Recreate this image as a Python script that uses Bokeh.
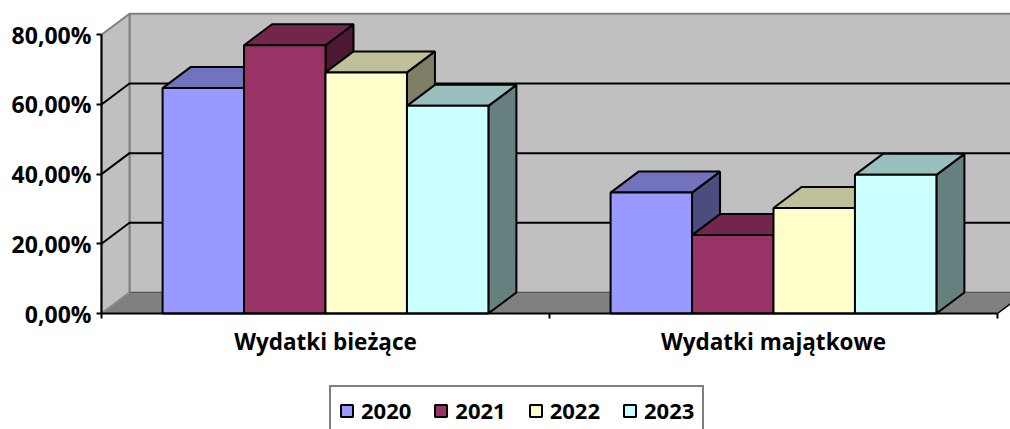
from bokeh.plotting import figure
from bokeh.models import (Range1d, FixedTicker, Legend, LegendItem, ColumnDataSource,
                          LinearAxis)
from bokeh.embed import file_html
from bokeh.resources import INLINE

# ---------------- data ----------------
categories = ["Wydatki bieżące", "Wydatki majątkowe"]
years = ["2020", "2021", "2022", "2023"]
v2020 = [64.7, 34.7]
v2021 = [77.0, 22.5]
v2022 = [69.2, 30.3]
v2023 = [59.6, 39.8]
series = [v2020, v2021, v2022, v2023]
y_ticks = [0, 20, 40, 60, 80]
y_tick_labels = ["0,00%", "20,00%", "40,00%", "60,00%", "80,00%"]
colors = ["#9999FF", "#993366", "#FFFFCC", "#CCFFFF"]

# ---------------- geometry / style ----------------
W, H = 1010, 429
X0_PX, Y0_PX = 101, 313     # pixel position of the (0, 0) corner of the front axes
PX_X = 448.0                # pixels per category
PX_Y = 3.484                # pixels per percent
x_start, x_end = -X0_PX / PX_X, (W - X0_PX) / PX_X
y_start, y_end = -(H - Y0_PX) / PX_Y, Y0_PX / PX_Y
DX = 28 / PX_X              # 3-D depth offset (x)
DY = 21 / PX_Y              # 3-D depth offset (y)
YMAX = y_ticks[-1]
NCAT = len(categories)
GAP = 1.5
BW = 1.0 / (len(series) + GAP)
FONT = "Open Sans"


def shade(hexc, f):
    r, g, b = int(hexc[1:3], 16), int(hexc[3:5], 16), int(hexc[5:7], 16)
    return "#%02x%02x%02x" % (int(r * f), int(g * f), int(b * f))


p = figure(width=W, height=H, x_range=Range1d(x_start, x_end), y_range=Range1d(y_start, y_end),
           output_backend="svg", toolbar_location=None,
           x_axis_location=None, y_axis_location=None,
           min_border_left=0, min_border_right=0, min_border_top=0, min_border_bottom=0,
           outline_line_color=None)
p.xgrid.grid_line_color = None
p.ygrid.grid_line_color = None

# back wall
p.patch([DX, DX, x_end + 1, x_end + 1], [DY, YMAX + DY, YMAX + DY, DY],
        fill_color="#C0C0C0", line_color="#808080", line_width=2)
# side wall
p.patch([0, 0, DX, DX], [0, YMAX, YMAX + DY, DY],
        fill_color="#C0C0C0", line_color="#808080", line_width=2)
# floor
p.patch([0, NCAT, NCAT + DX, x_end + 1, x_end + 1, DX], [0, 0, DY, DY, DY, DY],
        fill_color="#808080", line_color="#5a5a5a", line_width=1)
p.line([0, DX], [0, DY], line_color="#a0a0a0", line_width=1)
p.line([NCAT, NCAT + DX], [0, DY], line_color="black", line_width=1.5)

# gridlines (side wall + back wall)
for t in y_ticks[1:-1]:
    p.line([0, DX, x_end + 1], [t, t + DY, t + DY], line_color="black", line_width=2)

# bars
front_renderers = []
sides_xs, sides_ys, sides_c = [], [], []
tops_xs, tops_ys, tops_c = [], [], []
fronts = []
for s, vals in enumerate(series):
    lefts, rights, tops = [], [], []
    for c, h in enumerate(vals):
        x0 = c + 0.5 - len(series) / 2 * BW + s * BW
        x1 = x0 + BW
        sides_xs.append([x1, x1, x1 + DX, x1 + DX])
        sides_ys.append([0, h, h + DY, DY])
        sides_c.append(shade(colors[s], 0.5))
        tops_xs.append([x0, x0 + DX, x1 + DX, x1])
        tops_ys.append([h, h + DY, h + DY, h])
        tops_c.append(shade(colors[s], 0.75))
        lefts.append(x0)
        rights.append(x1)
        tops.append(h)
    fronts.append(dict(left=lefts, right=rights, top=tops, bottom=[0] * len(vals)))

p.patches(xs=sides_xs, ys=sides_ys, fill_color=sides_c, line_color="black", line_width=2)
p.patches(xs=tops_xs, ys=tops_ys, fill_color=tops_c, line_color="black", line_width=2)
for s, d in enumerate(fronts):
    r = p.quad(source=ColumnDataSource(d), left="left", right="right", top="top", bottom="bottom",
               fill_color=colors[s], line_color="black", line_width=2)
    front_renderers.append(r)

# y axis (front vertical axis at x = 0)
yax = LinearAxis(fixed_location=0)
yax.ticker = FixedTicker(ticks=y_ticks)
yax.major_label_overrides = dict(zip(y_ticks, y_tick_labels))
yax.bounds = (0, YMAX)
yax.axis_line_color = "black"
yax.axis_line_width = 2
yax.major_tick_line_color = "black"
yax.major_tick_line_width = 2
yax.major_tick_out = 5
yax.major_tick_in = 0
yax.minor_tick_line_color = None
yax.major_label_text_font = FONT
yax.major_label_text_font_style = "bold"
yax.major_label_text_font_size = "23px"
yax.major_label_text_color = "black"
yax.major_label_standoff = 5
p.add_layout(yax, "left")

# x axis (front baseline at y = 0)
centers = [i + 0.5 for i in range(NCAT)]
xax = LinearAxis(fixed_location=0)
xax.ticker = FixedTicker(ticks=centers, minor_ticks=list(range(NCAT + 1)))
xax.major_label_overrides = dict(zip(centers, categories))
xax.bounds = (0, NCAT)
xax.axis_line_color = "black"
xax.axis_line_width = 2
xax.major_tick_line_color = None
xax.major_tick_out = 0
xax.major_tick_in = 0
xax.minor_tick_line_color = "black"
xax.minor_tick_line_width = 2
xax.minor_tick_out = 5
xax.minor_tick_in = 0
xax.major_label_text_font = FONT
xax.major_label_text_font_style = "bold"
xax.major_label_text_font_size = "22.5px"
xax.major_label_text_color = "black"
xax.major_label_standoff = 7
p.add_layout(xax, "below")

legend = Legend(items=[LegendItem(label=y, renderers=[r]) for y, r in zip(years, front_renderers)],
                orientation="horizontal", location=(329, -6),
                label_text_font=FONT, label_text_font_style="bold", label_text_font_size="22px",
                label_text_color="black",
                glyph_width=15, glyph_height=15, label_standoff=7, spacing=22, padding=8, margin=0,
                border_line_color="black", border_line_width=2, background_fill_alpha=1)
p.add_layout(legend, "center")

open("out.html", "w").write(file_html(p, INLINE))
